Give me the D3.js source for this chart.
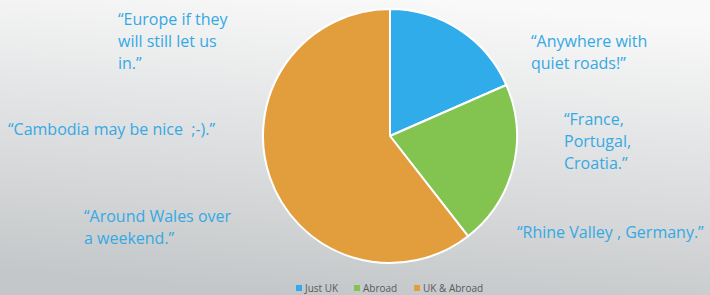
<!DOCTYPE html>
<html>
<head>
<meta charset="utf-8">
<script src="https://cdn.jsdelivr.net/npm/d3@7"></script>
<style>
  html, body { margin: 0; padding: 0; }
  body { width: 710px; height: 295px; overflow: hidden; }
  text { font-family: "Open Sans", "Noto Sans", sans-serif; white-space: pre; }
</style>
</head>
<body>
<div id="chart"></div>
<script>
const categories = ["Just UK", "Abroad", "UK & Abroad"];
const values = [7, 8, 23];
const colors = ["#31acea", "#83c450", "#e29d3d"];

// quotes around the pie, one array of lines each
const quotes = [
  ["\u201CEurope if they", "will still let us", "in.\u201D"],
  ["\u201CCambodia may be nice  ;-).\u201D"],
  ["\u201CAround Wales over", "a weekend.\u201D"],
  ["\u201CAnywhere with", "quiet roads!\u201D"],
  ["\u201CFrance,", "Portugal,", "Croatia.\u201D"],
  ["\u201CRhine Valley , Germany.\u201D"]
];
const quotePos = [[118, 25], [8, 135], [84, 222], [531, 47], [564, 125], [517, 238]];

const width = 710, height = 295;
const cx = 390, cy = 136, r = 127;

const svg = d3.select('#chart')
    .append('svg')
    .attr('width', width)
    .attr('height', height);

const grad = svg.append('defs').append('linearGradient')
    .attr('id', 'bg')
    .attr('x1', '0.6').attr('y1', '0')
    .attr('x2', '0.4').attr('y2', '1');
grad.append('stop').attr('offset', '0%').attr('stop-color', '#f9f9f9');
grad.append('stop').attr('offset', '100%').attr('stop-color', '#c4c7c9');

svg.append('rect')
    .attr('width', width)
    .attr('height', height)
    .attr('fill', 'url(#bg)');

const pie = d3.pie().sort(null)(values);
const arc = d3.arc().innerRadius(0).outerRadius(r);

svg.append('g')
    .attr('transform', `translate(${cx},${cy})`)
    .selectAll('path')
    .data(pie)
    .enter()
    .append('path')
    .attr('d', arc)
    .attr('fill', (d, i) => colors[i])
    .attr('stroke', '#fff')
    .attr('stroke-width', 2)
    .attr('stroke-linejoin', 'round');

// quotes
quotes.forEach((lines, i) => {
    const t = svg.append('text')
        .attr('x', quotePos[i][0])
        .attr('y', quotePos[i][1])
        .attr('font-size', 16)
        .attr('fill', '#35a9e4');
    lines.forEach((line, j) => {
        t.append('tspan')
            .attr('x', quotePos[i][0])
            .attr('dy', j === 0 ? 0 : 22)
            .text(line);
    });
});

// legend
const legendX = [296, 354, 414];
const legend = svg.append('g')
    .selectAll('g')
    .data(categories)
    .enter()
    .append('g')
    .attr('transform', (d, i) => `translate(${legendX[i]},290)`);

legend.append('rect')
    .attr('x', 0)
    .attr('y', -5)
    .attr('width', 6)
    .attr('height', 6)
    .attr('fill', (d, i) => colors[i]);

legend.append('text')
    .attr('x', 9)
    .attr('y', 1.5)
    .attr('font-size', 10)
    .attr('fill', '#595959')
    .text(d => d);
</script>
</body>
</html>
